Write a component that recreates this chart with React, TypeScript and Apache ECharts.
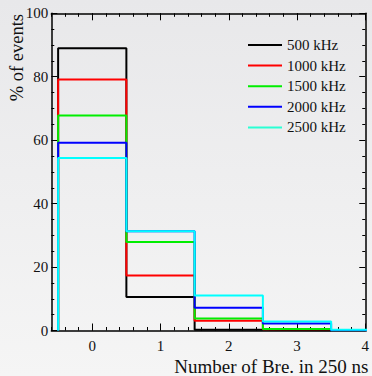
import React, { useEffect, useRef } from "react";
import * as echarts from "echarts";

// Bin centres (number of Bre. in 250 ns)
const binCenters = [0, 1, 2, 3, 4];
const binWidth = 1;

const seriesNames = ["500 kHz", "1000 kHz", "1500 kHz", "2000 kHz", "2500 kHz"];
const seriesColors = ["#000000", "#ff0000", "#00ee00", "#0000ff", "#00ffff"];
const legendColors = ["#000000", "#ff0000", "#00ee00", "#0000ff", "#2affd4"];

// % of events per bin
const v500 = [89.0, 10.6, 0.2, 0.0, 0.0];
const v1000 = [79.1, 17.3, 3.1, 0.4, 0.0];
const v1500 = [67.8, 27.9, 3.8, 0.5, 0.0];
const v2000 = [59.2, 31.3, 7.2, 2.2, 0.0];
const v2500 = [54.4, 31.3, 11.0, 2.8, 0.2];
const allValues = [v500, v1000, v1500, v2000, v2500];

const xMajorTicks = [0, 1, 2, 3, 4];
const X_MIN = -0.6;
const X_MAX = 4;
const Y_MIN = 0;
const Y_MAX = 100;

const FONT = "Liberation Serif";

function histPoints(vals: number[]) {
  const pts: number[][] = [[binCenters[0] - binWidth / 2, 0]];
  vals.forEach((v, i) => pts.push([binCenters[i] + binWidth / 2, v]));
  return pts;
}

export default function App() {
  const ref = useRef<HTMLDivElement>(null);
  useEffect(() => {
    if (!ref.current) return;
    const chart = echarts.init(ref.current, null, { renderer: "svg" });
    const axisLineStyle = { color: "#000", width: 1.5 };
    const tickLineStyle = { color: "#000", width: 1 };
    const labelStyle = { fontFamily: FONT, fontSize: 15, color: "#111" };
    const option: any = {
      animation: false,
      backgroundColor: new echarts.graphic.LinearGradient(0, 0, 0, 1, [
        { offset: 0, color: "#e8e8ea" },
        { offset: 1, color: "#f5f5f5" },
      ]),
      grid: { left: 51.3, top: 13.3, right: 3.7, bottom: 45.5, containLabel: false },
      legend: {
        left: 243,
        top: 32.5,
        padding: 5,
        orient: "vertical",
        icon: "rect",
        itemWidth: 34,
        itemHeight: 2,
        itemGap: 5.6,
        textStyle: { fontFamily: FONT, fontSize: 15, color: "#111", lineHeight: 15 },
        data: seriesNames.map((n, i) => ({ name: n, itemStyle: { color: legendColors[i] } })),
      },
      xAxis: [
        {
          type: "value", min: X_MIN, max: X_MAX, interval: 0.2, position: "bottom",
          axisLine: { show: true, onZero: false, lineStyle: axisLineStyle },
          axisTick: { show: true, inside: true, length: 3.5, lineStyle: tickLineStyle },
          axisLabel: { show: false }, splitLine: { show: false },
        },
        {
          type: "value", min: X_MIN, max: X_MAX, position: "bottom",
          axisLine: { show: false, onZero: false },
          axisTick: { show: true, inside: true, length: 7, lineStyle: tickLineStyle, customValues: xMajorTicks },
          axisLabel: { show: true, customValues: xMajorTicks, margin: 8, ...labelStyle, showMaxLabel: true, showMinLabel: true },
          splitLine: { show: false },
        },
        {
          type: "value", min: X_MIN, max: X_MAX, interval: 0.2, position: "top",
          axisLine: { show: true, onZero: false, lineStyle: axisLineStyle },
          axisTick: { show: true, inside: true, length: 3.5, lineStyle: tickLineStyle },
          axisLabel: { show: false }, splitLine: { show: false },
        },
        {
          type: "value", min: X_MIN, max: X_MAX, position: "top",
          axisLine: { show: false, onZero: false },
          axisTick: { show: true, inside: true, length: 7, lineStyle: tickLineStyle, customValues: xMajorTicks },
          axisLabel: { show: false }, splitLine: { show: false },
        },
      ],
      yAxis: [
        {
          type: "value", min: Y_MIN, max: Y_MAX, interval: 20, position: "left",
          axisLine: { show: true, onZero: false, lineStyle: axisLineStyle },
          axisTick: { show: true, inside: true, length: 6, lineStyle: tickLineStyle },
          minorTick: { show: true, splitNumber: 4, length: 3, lineStyle: tickLineStyle },
          axisLabel: { show: true, margin: 3, ...labelStyle },
          splitLine: { show: false }, minorSplitLine: { show: false },
        },
        {
          type: "value", min: Y_MIN, max: Y_MAX, interval: 20, position: "right",
          axisLine: { show: true, onZero: false, lineStyle: axisLineStyle },
          axisTick: { show: true, inside: true, length: 6, lineStyle: tickLineStyle },
          minorTick: { show: true, splitNumber: 4, length: 3, lineStyle: tickLineStyle },
          axisLabel: { show: false },
          splitLine: { show: false }, minorSplitLine: { show: false },
        },
      ],
      series: allValues.map((vals, i) => ({
        name: seriesNames[i],
        type: "line",
        step: "start",
        xAxisIndex: 0,
        yAxisIndex: 0,
        showSymbol: false,
        symbol: "none",
        clip: true,
        data: histPoints(vals),
        lineStyle: { color: seriesColors[i], width: 2 },
        itemStyle: { color: seriesColors[i] },
      })),
      graphic: [
        {
          type: "text",
          x: 16.5,
          y: 14,
          rotation: Math.PI / 2,
          style: {
            text: "% of events",
            fontFamily: FONT,
            fontSize: 18.5,
            fill: "#111",
            align: "right",
            verticalAlign: "middle",
          },
        },
        {
          type: "text",
          x: 368.5,
          y: 366,
          style: {
            text: "Number of Bre. in 250 ns",
            fontFamily: FONT,
            fontSize: 19,
            fill: "#111",
            align: "right",
            verticalAlign: "middle",
          },
        },
      ],
    };
    chart.setOption(option);
    return () => chart.dispose();
  }, []);
  return (
    <div
      ref={ref}
      style={{ position: "fixed", left: 0, top: 0, width: 372, height: 376 }}
    />
  );
}
